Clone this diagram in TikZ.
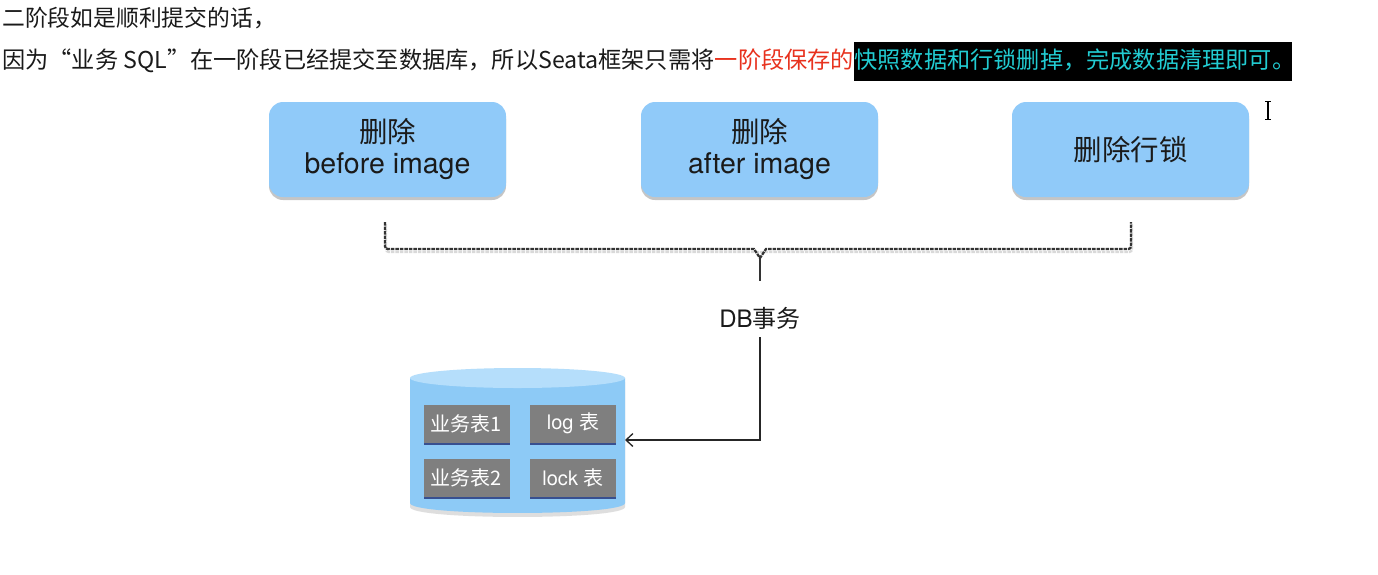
\documentclass[tikz,border=0pt]{standalone}
\usepackage{fontspec}
\setmainfont{TeX Gyre Heros}
\newfontfamily\cjk{Noto Sans CJK SC}
\usetikzlibrary{shadows,backgrounds,arrows.meta,calc}
\definecolor{boxblue}{HTML}{90CAF9}
\definecolor{cylbody}{HTML}{8DCAF6}
\definecolor{cyltop}{HTML}{B5DEFB}
\definecolor{tblgray}{HTML}{7F7F7F}
\definecolor{txtred}{HTML}{E8321E}
\definecolor{txtcyan}{HTML}{22CCD2}
\definecolor{txtdark}{HTML}{1A1A1A}
\newcommand{\lquo}{\makebox[1em][r]{“}}
\newcommand{\rquo}{\makebox[1em][l]{”}}
\tikzset{
  bluebox/.style={fill=boxblue, rounded corners=14pt, minimum width=237pt, minimum height=95pt,
    align=center, inner sep=0pt, text=txtdark,
    font=\fontsize{28.5}{31}\selectfont,
    drop shadow={shadow xshift=0pt, shadow yshift=-3pt, opacity=0.45, fill=gray}},
  graybox/.style={fill=tblgray, minimum width=86pt, minimum height=38pt, inner sep=0pt,
    text=white, font=\fontsize{20}{24}\selectfont,
    drop shadow={shadow xshift=0pt, shadow yshift=-2.5pt, opacity=0.6, fill=black!70!blue}},
  bracestyle/.style={draw=black!80, line width=2.3pt, dash pattern=on 3.5pt off 1pt},
  topline/.style={anchor=base west, inner sep=0pt},
  line1font/.style={font=\cjk\fontsize{22.8}{24}\selectfont},
  line2font/.style={font=\cjk\fontsize{23.2}{24}\selectfont},
}
\begin{document}
\begin{tikzpicture}[x=1pt,y=-1pt]
\useasboundingbox (0,0) rectangle (1378,574);

% heading text
\node[topline, line1font, text=txtdark] (l1) at (2,26) {二阶段如是顺利提交的话，};
\node[topline, line2font, text=txtdark] (l2a) at (2,68) {因为\lquo 业务 SQL\rquo 在一阶段已经提交至数据库，所以Seata框架只需将};
\node[topline, line2font, text=txtred] (l2b) at (l2a.base east) {一阶段保存的};
\node[topline, line2font, text=txtcyan] (l2c) at (l2b.base east) {快照数据和行锁删掉，完成数据清理即可。};
\begin{scope}[on background layer]
  \fill[white] (0,0) rectangle (1378,574);
  \fill[black] (l2c.west |- 0,42) rectangle (1292,81);
\end{scope}

% cursor
\draw[line width=1.1pt] (1268,101) -- (1268,119);
\draw[line width=1pt] (1265,101) -- (1271,101) (1265,119) -- (1271,119);

% boxes
\node[bluebox] (b1) at (387.5,149.5) {{\cjk 删除}\\before image};
\node[bluebox] (b2) at (759.5,149.5) {{\cjk 删除}\\after image};
\node[bluebox] (b3) at (1130.5,149.5) {\cjk 删除行锁};

% brace
\coordinate (brL) at (385,222);
\coordinate (brR) at (1131,222);
\coordinate (brM) at (760,258);
\coordinate (brB) at (760,281);
\draw[black!15, line width=2.3pt, dash pattern=on 3.5pt off 1pt] (386,224) -- (386,245) .. controls (386,252) .. (392,252) -- (1126,252) .. controls (1132,252) .. (1132,245) -- (1132,224);
\draw[bracestyle] (brL) -- (385,243) .. controls (385,249) .. (391,249) -- (754,249) -- (brM)
  -- (766,249) -- (1125,249) .. controls (1131,249) .. (1131,243) -- (brR);
\draw[black!80, line width=1.8pt] (brM) -- (brB);

% DB transaction label
\node[inner sep=0pt, text=txtdark, font=\fontsize{24}{26}\selectfont] (db) at (760,318) {DB{\cjk 事务}};

% cylinder
\fill[gray!50, opacity=0.5] (410,382) -- (410,507) .. controls (410,520.3) and (625,520.3) .. (625,507) -- (625,382) -- cycle;
\fill[cylbody] (410,378) -- (410,503) .. controls (410,516.3) and (625,516.3) .. (625,503) -- (625,378) -- cycle;
\fill[cyltop] (517.5,378) ellipse [x radius=107.5, y radius=10];
\coordinate (cylE) at (625,440);

% tables
\node[graybox] (t1) at (466.5,423.5) {\cjk 业务表1};
\node[graybox] (t2) at (573,423.5) {log {\cjk 表}};
\node[graybox] (t3) at (466.5,477.5) {\cjk 业务表2};
\node[graybox] (t4) at (573,477.5) {lock {\cjk 表}};

% arrow
\draw[line width=1.3pt, black!85, -{Straight Barb[length=7pt, width=13pt, line width=1.3pt]}]
  ([yshift=-8pt]db.south) |- (cylE);
\end{tikzpicture}
\end{document}
